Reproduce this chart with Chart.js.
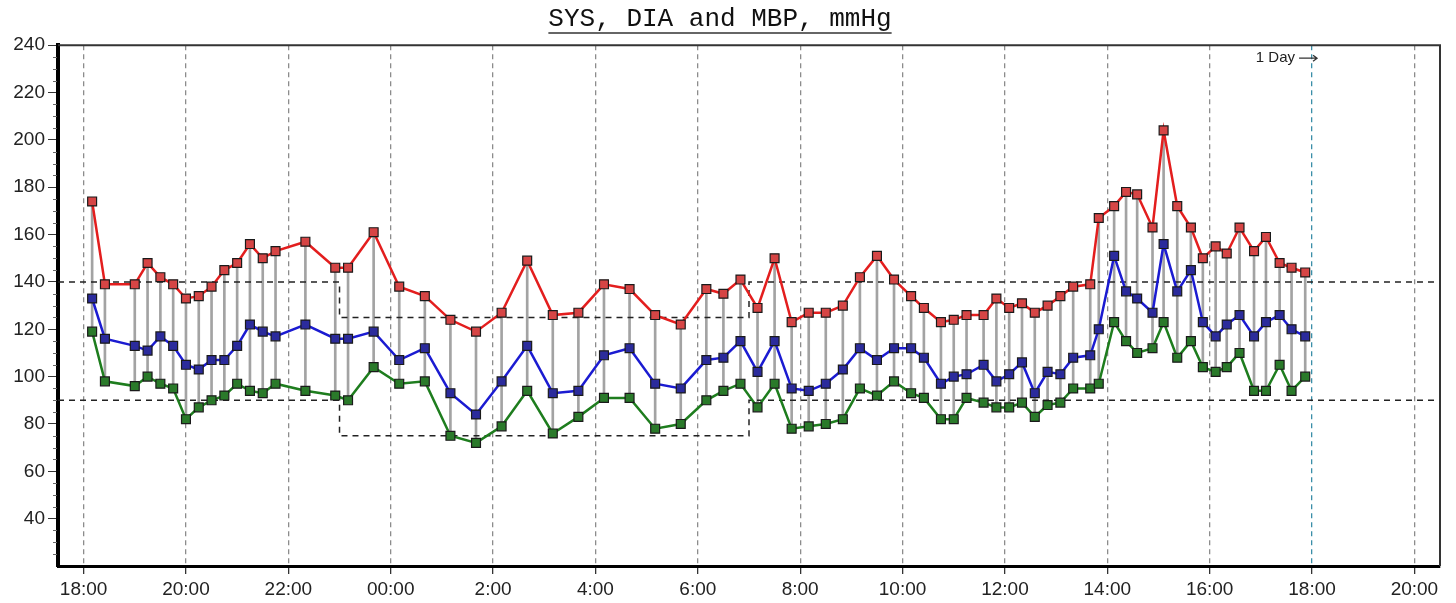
<!DOCTYPE html>
<html>
<head>
<meta charset="utf-8">
<script src="https://cdn.jsdelivr.net/npm/chart.js@4.4.1/dist/chart.umd.min.js"></script>
<style>
    html, body { margin: 0; padding: 0; background: #fff; }
</style>
</head>
<body>
<canvas id="bp-chart" width="1456" height="603"></canvas>
<script>
// Measurement times, 18:10 on day one to 17:52 on day two
const times = [
    '18:10', '18:25', '19:00', '19:15', '19:30', '19:45', '20:00', '20:15', '20:30', '20:45',
    '21:00', '21:15', '21:30', '21:45', '22:20', '22:55', '23:10', '23:40', '00:10', '00:40',
    '01:10', '01:40', '02:10', '02:40', '03:10', '03:40', '04:10', '04:40', '05:10', '05:40',
    '06:10', '06:30', '06:50', '07:10', '07:30', '07:50', '08:10', '08:30', '08:50', '09:10',
    '09:30', '09:50', '10:10', '10:25', '10:45', '11:00', '11:15', '11:35', '11:50', '12:05',
    '12:20', '12:35', '12:50', '13:05', '13:20', '13:40', '13:50', '14:08', '14:22', '14:35',
    '14:53', '15:06', '15:22', '15:38', '15:52', '16:07', '16:20', '16:35', '16:52', '17:06',
    '17:22', '17:36', '17:52'
];
const sys = [
    174, 139, 139, 148, 142, 139, 133, 134, 138, 145,
    148, 156, 150, 153, 157, 146, 146, 161, 138, 134,
    124, 119, 127, 149, 126, 127, 139, 137, 126, 122,
    137, 135, 141, 129, 150, 123, 127, 127, 130, 142,
    151, 141, 134, 129, 123, 124, 126, 126, 133, 129,
    131, 127, 130, 134, 138, 139, 167, 172, 178, 177,
    163, 204, 172, 163, 150, 155, 152, 163, 153, 159,
    148, 146, 144
];
const mbp = [
    133, 116, 113, 111, 117, 113, 105, 103, 107, 107,
    113, 122, 119, 117, 122, 116, 116, 119, 107, 112,
    93, 84, 98, 113, 93, 94, 109, 112, 97, 95,
    107, 108, 115, 102, 115, 95, 94, 97, 103, 112,
    107, 112, 112, 108, 97, 100, 101, 105, 98, 101,
    106, 93, 102, 101, 108, 109, 120, 151, 136, 133,
    127, 156, 136, 145, 123, 117, 122, 126, 117, 123,
    126, 120, 117
];
const dia = [
    119, 98, 96, 100, 97, 95, 82, 87, 90, 92,
    97, 94, 93, 97, 94, 92, 90, 104, 97, 98,
    75, 72, 79, 94, 76, 83, 91, 91, 78, 80,
    90, 94, 97, 87, 97, 78, 79, 80, 82, 95,
    92, 98, 93, 91, 82, 82, 91, 89, 87, 87,
    89, 83, 88, 89, 95, 95, 97, 123, 115, 110,
    112, 123, 108, 115, 104, 102, 104, 110, 94, 94,
    105, 94, 100
];

const xTickLabels = ['18:00', '20:00', '22:00', '00:00', '2:00', '4:00', '6:00',
    '8:00', '10:00', '12:00', '14:00', '16:00', '18:00', '20:00'];
const yTickLabels = [40, 60, 80, 100, 120, 140, 160, 180, 200, 220, 240];

// Alarm limits: day, night, day again
const limitChanges = ['23:00', '07:00'];
const sysLimits = [140, 125, 140];
const diaLimits = [90, 75, 90];

const X_MIN = -0.5;
const X_MAX = 26.5;

// hours since 18:00 on the first day
function toHours(t) {
    const [h, m] = t.split(':').map(Number);
    return ((h * 60 + m - 18 * 60 + 1440) % 1440) / 60;
}

function limitLine(levels) {
    return [
        { x: X_MIN, y: levels[0] },
        { x: toHours(limitChanges[0]), y: levels[1] },
        { x: toHours(limitChanges[1]), y: levels[2] },
        { x: X_MAX, y: levels[2] },
    ];
}

function series(values, line, fill, order) {
    return {
        type: 'line',
        data: times.map((t, i) => ({ x: toHours(t), y: values[i] })),
        borderColor: line,
        borderWidth: 2.5,
        pointStyle: 'rect',
        pointRadius: 6.3,
        pointBackgroundColor: fill,
        pointBorderColor: '#1a1a1a',
        pointBorderWidth: 1.2,
        tension: 0,
        order,
    };
}

// underline for title, top/right frame, minor y ticks, the "1 Day" marker
const decor = {
    id: 'decor',
    afterDraw(chart) {
        const { ctx, chartArea: a, scales: { x, y } } = chart;
        ctx.save();

        ctx.strokeStyle = '#333';
        ctx.lineWidth = 2;
        ctx.beginPath();
        ctx.moveTo(a.left, a.top);
        ctx.lineTo(a.right, a.top);
        ctx.lineTo(a.right, a.bottom);
        ctx.stroke();

        ctx.strokeStyle = '#666';
        ctx.lineWidth = 1;
        y.ticks.forEach(t => {
            if (yTickLabels.includes(t.value) || t.value === y.min) return;
            const py = Math.round(y.getPixelForValue(t.value)) + 0.5;
            ctx.beginPath();
            ctx.moveTo(a.left - 5, py);
            ctx.lineTo(a.left - 1, py);
            ctx.stroke();
        });

        const tb = chart.titleBlock;
        const title = chart.options.plugins.title.text;
        ctx.font = '26px "Liberation Mono", monospace';
        const w = ctx.measureText(title).width;
        const cx = (tb.left + tb.right) / 2;
        ctx.strokeStyle = '#333';
        ctx.lineWidth = 1.5;
        ctx.beginPath();
        ctx.moveTo(cx - w / 2, 33);
        ctx.lineTo(cx + w / 2, 33);
        ctx.stroke();

        const dayX = x.getPixelForValue(24);
        ctx.fillStyle = '#222';
        ctx.font = '15px "Liberation Sans", Arial, sans-serif';
        ctx.textAlign = 'right';
        ctx.textBaseline = 'middle';
        ctx.fillText('1 Day', dayX - 17, a.top + 13);
        ctx.strokeStyle = '#333';
        ctx.lineWidth = 1.3;
        ctx.beginPath();
        ctx.moveTo(dayX - 13, a.top + 13);
        ctx.lineTo(dayX + 5, a.top + 13);
        ctx.moveTo(dayX + 1, a.top + 10);
        ctx.lineTo(dayX + 5, a.top + 13);
        ctx.lineTo(dayX + 1, a.top + 16);
        ctx.stroke();

        ctx.restore();
    }
};

const ctx = document.getElementById('bp-chart').getContext('2d');
new Chart(ctx, {
    type: 'line',
    data: {
        datasets: [
            {
                type: 'bar',
                data: times.map((t, i) => ({ x: toHours(t), y: [dia[i], sys[i]] })),
                backgroundColor: '#a3a3a3',
                barThickness: 2,
                order: 10,
            },
            {
                data: limitLine(sysLimits),
                borderColor: '#222',
                borderWidth: 1.5,
                borderDash: [6, 5],
                stepped: true,
                pointRadius: 0,
                order: 5,
            },
            {
                data: limitLine(diaLimits),
                borderColor: '#222',
                borderWidth: 1.5,
                borderDash: [6, 5],
                stepped: true,
                pointRadius: 0,
                order: 5,
            },
            series(dia, '#1e7d1e', '#2a7a2a', 3),
            series(mbp, '#1b1bd1', '#2b2b9c', 2),
            series(sys, '#e31e1e', '#d64545', 1),
        ]
    },
    options: {
        responsive: false,
        animation: false,
        layout: { padding: { right: 16 } },
        plugins: {
            legend: { display: false },
            tooltip: { enabled: false },
            title: {
                display: true,
                text: 'SYS, DIA and MBP, mmHg',
                color: '#111',
                font: { family: '"Liberation Mono", monospace', size: 26, weight: 'normal' },
                padding: { top: 4, bottom: 10 },
            }
        },
        scales: {
            x: {
                type: 'linear',
                min: X_MIN,
                max: X_MAX,
                offset: false,
                afterBuildTicks: scale => {
                    scale.ticks = xTickLabels.map((_, i) => ({ value: i * 2 }));
                },
                afterFit: scale => { scale.height = 37; },
                grid: {
                    offset: false,
                    drawOnChartArea: true,
                    color: c => (c.tick && c.tick.value === 24 ? '#3a8ea8' : '#8c8c8c'),
                    lineWidth: 1.3,
                    tickLength: 8,
                    tickColor: '#333',
                },
                border: { display: true, color: '#000', width: 3, dash: [5, 4] },
                ticks: {
                    autoSkip: false,
                    maxRotation: 0,
                    padding: 4,
                    color: '#222',
                    font: { family: '"Liberation Sans", Arial, sans-serif', size: 19 },
                    callback: (v, i) => xTickLabels[i],
                },
            },
            y: {
                min: 20,
                max: 240,
                afterFit: scale => { scale.width = 58; },
                grid: {
                    drawOnChartArea: false,
                    tickLength: 10,
                    tickColor: c => (yTickLabels.includes(c.tick.value) ? '#333' : 'transparent'),
                },
                border: { display: true, color: '#000', width: 4 },
                ticks: {
                    stepSize: 5,
                    autoSkip: false,
                    padding: 3,
                    color: '#222',
                    font: { family: '"Liberation Sans", Arial, sans-serif', size: 19 },
                    callback: v => (yTickLabels.includes(v) ? String(v) : ''),
                },
            }
        }
    },
    plugins: [decor]
});
</script>
</body>
</html>
